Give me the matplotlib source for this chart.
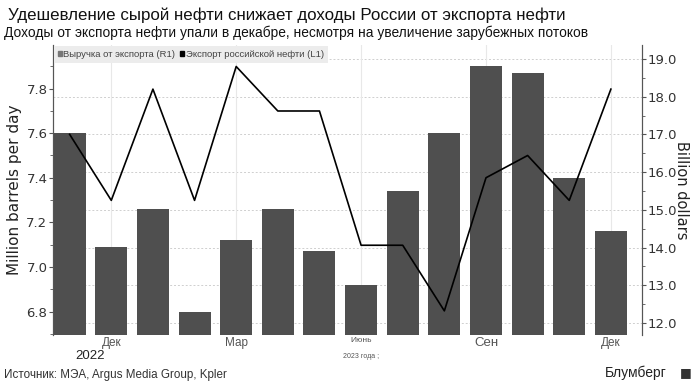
import numpy as np
import matplotlib
matplotlib.use("Agg")
import matplotlib.pyplot as plt
import matplotlib.transforms as mtransforms
from matplotlib.patches import Patch
from matplotlib.ticker import MultipleLocator, FormatStrFormatter

# data (Nov 2022 .. Dec 2023)
months = ["Ноя", "Дек", "Янв", "Фев", "Мар", "Апр", "Май", "Июнь",
          "Июль", "Авг", "Сен", "Окт", "Ноя", "Дек"]
export_mbpd = [7.60, 7.09, 7.26, 6.80, 7.12, 7.26, 7.07, 6.92,
               7.34, 7.60, 7.90, 7.87, 7.40, 7.16]
revenue_bn = [17.0, 15.25, 18.2, 15.25, 18.8, 17.62, 17.62, 14.06,
              14.06, 12.32, 15.85, 16.44, 15.25, 18.2]
tick_idx = [1, 4, 7, 10, 13]
tick_labels = ["Дек", "Мар", "Июнь", "Сен", "Дек"]

bar_color = "#4f4f4f"
grid_color = "#cfcfcf"
sans = "Liberation Sans"

fig = plt.figure(figsize=(6.94, 3.85), dpi=100)
ax = fig.add_axes([53 / 694, 50 / 385, (641.7 - 53) / 694, 290 / 385])
ax2 = ax.twinx()

x = np.arange(len(months))
ax.set_xlim(-0.40, 13.74)
ax.set_ylim(6.695, 7.995)
ax2.set_ylim(11.68, 19.37)

# grid drawn on the bar axes (behind bars); horizontal lines follow right-axis ticks
grid_tr = mtransforms.blended_transform_factory(ax.transAxes, ax2.transData)
ax.hlines(np.arange(12, 20), 0, 1, transform=grid_tr, color=grid_color,
          lw=0.7, linestyles=(0, (2, 2)), zorder=0)
for i in tick_idx:
    ax.axvline(i, color="#e8e8e8", lw=0.8, zorder=0)

ax.bar(x, export_mbpd, width=0.77, color=bar_color, zorder=2)
ax2.plot(x, revenue_bn, color="black", lw=1.2, zorder=3)

# axes styling
for a in (ax, ax2):
    a.spines["top"].set_visible(False)
    a.spines["bottom"].set_visible(False)
    a.spines["left"].set_color("#555555")
    a.spines["right"].set_color("#555555")
ax.yaxis.set_major_locator(MultipleLocator(0.2))
ax.yaxis.set_minor_locator(MultipleLocator(0.1))
ax.yaxis.set_major_formatter(FormatStrFormatter("%.1f"))
ax2.yaxis.set_major_locator(MultipleLocator(1.0))
ax2.yaxis.set_minor_locator(MultipleLocator(0.5))
ax2.yaxis.set_major_formatter(FormatStrFormatter("%.1f"))
ax.tick_params(axis="y", length=3, width=0.8, color="#555555",
               labelsize=9.5, labelcolor="#333333", pad=1)
ax.tick_params(axis="y", which="minor", length=2, color="#555555")
ax2.tick_params(axis="y", length=3, width=0.8, color="#555555",
                labelsize=9.5, labelcolor="#333333", pad=1)
ax2.tick_params(axis="y", which="minor", length=2, color="#555555")

ax.set_xticks(tick_idx)
ax.set_xticklabels([])
ax.tick_params(axis="x", length=0)

ax.set_ylabel("Million barrels per day", fontsize=11, labelpad=3,
              family="DejaVu Sans", color="#222222")
ax2.set_ylabel("Billion dollars", fontsize=10.5, rotation=270, labelpad=9,
               family="DejaVu Sans", color="#222222")

# month labels
trans = ax.get_xaxis_transform()
sizes = [8.5, 8.5, 6, 9.5, 8.5]
for i, lab, fs in zip(tick_idx, tick_labels, sizes):
    ax.text(i, -0.008, lab, transform=trans, ha="center", va="top",
            fontsize=fs, color="#555555", family=sans)
ax.text(0.5, -0.052, "2022", transform=trans, ha="center", va="top",
        fontsize=9.5, color="#222222", family=sans)
ax.text(7, -0.062, "2023 года ;", transform=trans, ha="center", va="top",
        fontsize=5, color="#555555", family=sans)

# legend
handles = [Patch(color="#777777", label="Выручка от экспорта (R1)"),
           Patch(color="black", label="Экспорт российской нефти (L1)")]
leg = ax2.legend(handles=handles, loc="upper left", ncol=2, frameon=True,
                 handlelength=0.45, handleheight=0.45,
                 handletextpad=0.15, columnspacing=0.5, borderpad=0.4,
                 borderaxespad=0.1, prop={"family": sans, "size": 6.8})
leg.get_frame().set_facecolor("#ececec")
leg.get_frame().set_edgecolor("none")
leg.get_frame().set_alpha(1)
leg.get_frame().set_boxstyle("square", pad=0)
for t in leg.get_texts():
    t.set_color("#444444")
leg.set_zorder(5)

# titles and footer
fig.text(8 / 694, 1 - 15 / 385, "Удешевление сырой нефти снижает доходы России от экспорта нефти",
         fontsize=12.2, family=sans, va="center", color="#111111")
fig.text(4 / 694, 1 - 33 / 385, "Доходы от экспорта нефти упали в декабре, несмотря на увеличение зарубежных потоков",
         fontsize=9.9, family=sans, va="center", color="#111111")
fig.text(4 / 694, 1 - 375 / 385, "Источник: МЭА, Argus Media Group, Kpler",
         fontsize=8.4, family=sans, va="center", color="#333333")
fig.text(667 / 694, 1 - 373 / 385, "Блумберг", fontsize=10, family=sans,
         va="center", ha="right", color="#222222")
fig.text(686 / 694, 1 - 373 / 385, "\u25a0", fontsize=9, family="DejaVu Sans",
         va="center", ha="center", color="#333333")

fig.savefig("out.png", dpi=100)
